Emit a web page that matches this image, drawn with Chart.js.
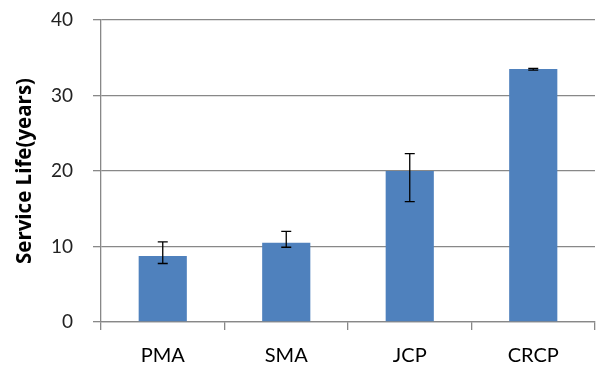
<!DOCTYPE html>
<html>
<head>
<meta charset="utf-8">
<script src="https://cdn.jsdelivr.net/npm/chart.js@4.4.0/dist/chart.umd.min.js"></script>
<style>
  html, body { margin: 0; padding: 0; background: #fff; }
  #wrap { width: 597px; height: 366px; }
</style>
</head>
<body>
<div id="wrap"><canvas id="chart"></canvas></div>
<script>
// valeurs
const categories = ["PMA", "SMA", "JCP", "CRCP"]
const serviceLife = [8.75, 10.5, 20, 33.5]
const errLow = [7.75, 9.9, 15.95, 33.35]
const errHigh = [10.6, 12.0, 22.3, 33.6]
const yTicks = [0, 10, 20, 30, 40]

// petit plugin pour dessiner les barres d'erreur
const errorBars = {
  id: 'errorBars',
  afterDatasetsDraw(chart) {
    let ctx = chart.ctx
    let y = chart.scales.y
    let meta = chart.getDatasetMeta(0)
    ctx.save()
    ctx.strokeStyle = '#000'
    ctx.lineWidth = 1.3
    meta.data.forEach((bar, i) => {
      let top = y.getPixelForValue(errHigh[i])
      let bottom = y.getPixelForValue(errLow[i])
      ctx.beginPath()
      ctx.moveTo(bar.x, top)
      ctx.lineTo(bar.x, bottom)
      ctx.moveTo(bar.x - 5, top)
      ctx.lineTo(bar.x + 5, top)
      ctx.moveTo(bar.x - 5, bottom)
      ctx.lineTo(bar.x + 5, bottom)
      ctx.stroke()
    })
    ctx.restore()
  }
}

new Chart(document.getElementById('chart'), {
  type: 'bar',
  data: {
    labels: categories,
    datasets: [{
      data: serviceLife,
      backgroundColor: '#4f81bd',
      borderWidth: 0,
      barPercentage: 0.39,
      categoryPercentage: 1
    }]
  },
  options: {
    responsive: true,
    maintainAspectRatio: false,
    animation: false,
    layout: { padding: { top: 20, right: 2, left: 0, bottom: 0 } },
    plugins: {
      legend: { display: false },
      tooltip: { enabled: false }
    },
    scales: {
      x: {
        grid: {
          display: true,
          offset: true,
          drawOnChartArea: false,
          drawTicks: true,
          tickLength: 8,
          color: '#888',
          lineWidth: 1.3
        },
        border: { display: true, color: '#888', width: 1.3 },
        ticks: {
          color: '#000',
          font: { family: 'Lato', size: 20 },
          padding: 14
        },
        afterFit(scale) { scale.height = 44 }
      },
      y: {
        min: 0,
        max: 40,
        afterBuildTicks(scale) {
          scale.ticks = yTicks.map(v => ({ value: v }))
        },
        grid: {
          color: '#888',
          lineWidth: 1.3,
          tickLength: 8
        },
        border: { display: true, color: '#888', width: 1.3 },
        ticks: {
          color: '#222',
          font: { family: 'Lato', size: 19 },
          padding: 20
        },
        title: {
          display: true,
          text: 'Service Life(years)',
          color: '#000',
          font: { family: 'Open Sans', size: 20.5, weight: 'bold' },
          padding: { top: 13, bottom: 0 }
        },
        afterFit(scale) {
          scale.width = 101
          // le label "40" ne doit pas pousser la zone du graphique vers le bas
          scale.paddingTop = 0
          scale.paddingBottom = 0
        }
      }
    }
  },
  plugins: [errorBars]
})
</script>
</body>
</html>
